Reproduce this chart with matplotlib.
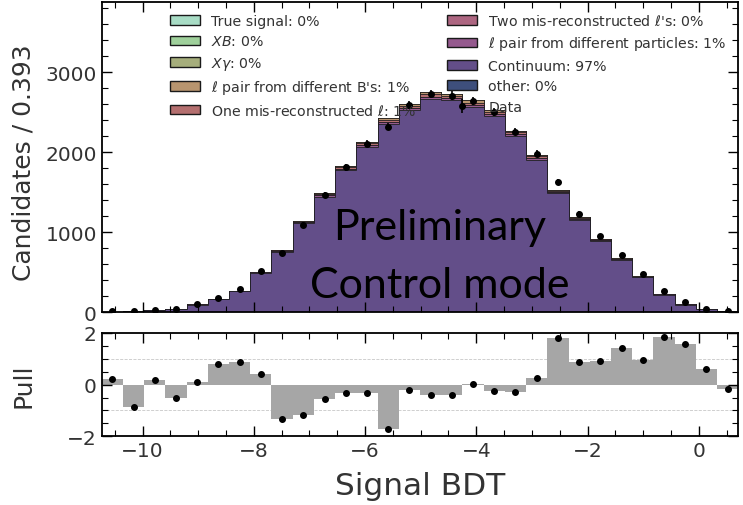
import numpy as np
import matplotlib
matplotlib.use('Agg')
import matplotlib.pyplot as plt
from matplotlib.ticker import MultipleLocator

# Signal BDT distribution, control mode
x_lo, x_hi, n_bins = -10.737, 0.712, 30

mc_total = [8, 12, 25, 45, 100, 167, 270, 508, 783, 1145, 1491, 1833, 2133, 2425, 2600,
            2750, 2729, 2646, 2529, 2271, 1966, 1533, 1190, 920, 677, 450, 229, 100, 41, 20]
data = [20, 20, 33, 41, 100, 175, 290, 516, 735, 1096, 1462, 1812, 2108, 2321, 2591,
        2729, 2708, 2637, 2500, 2258, 1979, 1625, 1225, 950, 720, 475, 270, 125, 41, 20]
pull = [0.21, -0.87, 0.19, -0.52, 0.11, 0.80, 0.88, 0.42, -1.34, -1.17, -0.56, -0.31, -0.31, -1.71, -0.20,
        -0.39, -0.39, 0.01, -0.25, -0.30, 0.26, 1.79, 0.86, 0.93, 1.41, 0.95, 1.86, 1.58, 0.62, -0.16]

components = ['True signal', '$XB$', r'$X\gamma$', "$\\ell$ pair from different B's",
              'One mis-reconstructed $\\ell$', "Two mis-reconstructed $\\ell$'s",
              '$\\ell$ pair from different particles', 'Continuum', 'other']
shares = [0, 0, 0, 1, 1, 0, 1, 97, 0]
colors = ['#a8dcc5', '#9fd09b', '#a6ae7c', '#b8956f', '#b46f6f', '#ad6681',
          '#955a8e', '#634e89', '#3e4f7c']

edges = np.linspace(x_lo, x_hi, n_bins + 1)
centers = 0.5 * (edges[1:] + edges[:-1])
mc_total = np.array(mc_total, dtype=float)
data = np.array(data, dtype=float)

plt.rcParams['font.family'] = 'DejaVu Sans'
plt.rcParams['xtick.direction'] = 'in'
plt.rcParams['ytick.direction'] = 'in'
plt.rcParams['xtick.top'] = True
plt.rcParams['ytick.right'] = True

fig = plt.figure(figsize=(7.43, 5.06), dpi=100)
W, H = 743., 506.
ax = fig.add_axes([101.7/W, 1-313.3/H, (738.3-101.7)/W, (313.3-2.7)/H])
axp = fig.add_axes([101.7/W, 1-437.3/H, (738.3-101.7)/W, (437.3-334)/H])

# stacked MC, continuum at the bottom
weights = [mc_total*s/100. for s in shares][::-1]
labels = ['%s: %d%%' % (c, s) for c, s in zip(components, shares)][::-1]
_, _, patches = ax.hist([centers]*len(weights), bins=edges, weights=weights, stacked=True,
                        histtype='stepfilled', color=colors[::-1], edgecolor='#1a1a1a',
                        linewidth=0.5, label=labels)
eb = ax.errorbar(centers, data, yerr=np.sqrt(data), fmt='o', color='k', ms=4,
                 elinewidth=1.2, capsize=0, label='Data')

handles = [p[0] for p in patches][::-1] + [eb]
leg_labels = labels[::-1] + ['Data']
leg = ax.legend(handles, leg_labels, ncol=2, frameon=False, fontsize=10.2,
                loc='upper left', bbox_to_anchor=(170/W, 1-14/H),
                bbox_transform=fig.transFigure, borderaxespad=0, borderpad=0,
                labelspacing=0.45, handlelength=2.1, handleheight=0.65,
                handletextpad=0.8, columnspacing=2.2)
for t in leg.get_texts():
    t.set_color('#333333')
for h in leg.legend_handles[:-1]:
    h.set_linewidth(1.0)

ax.set_xlim(x_lo, x_hi)
ax.set_ylim(0, 3880)
ax.yaxis.set_major_locator(MultipleLocator(1000))
ax.yaxis.set_minor_locator(MultipleLocator(200))
ax.xaxis.set_major_locator(MultipleLocator(2))
ax.xaxis.set_minor_locator(MultipleLocator(0.5))
ax.tick_params(labelbottom=False)
ax.set_ylabel('Candidates / 0.393', fontsize=18, color='#333333')

ax.text(440/W, 1-240/H, 'Preliminary', transform=fig.transFigure, ha='center',
        va='baseline', fontsize=31, family='Lato', color='k')
ax.text(440/W, 1-298/H, 'Control mode', transform=fig.transFigure, ha='center',
        va='baseline', fontsize=31, family='Lato', color='k')

# pull panel
for yy in (-1, 1):
    axp.axhline(yy, ls='--', color='#c8c8c8', lw=0.6, zorder=0)
axp.bar(centers, pull, width=edges[1]-edges[0], color='#a6a6a6', linewidth=0, zorder=1)
axp.plot(centers, pull, 'o', color='k', ms=4, zorder=3)
axp.set_xlim(x_lo, x_hi)
axp.set_ylim(-2, 2)
axp.yaxis.set_major_locator(MultipleLocator(2))
axp.yaxis.set_minor_locator(MultipleLocator(0.5))
axp.xaxis.set_major_locator(MultipleLocator(2))
axp.xaxis.set_minor_locator(MultipleLocator(0.5))
axp.set_ylabel('Pull', fontsize=18, color='#333333')
axp.set_xlabel('Signal BDT', fontsize=22.5, color='#333333', labelpad=8)

for a in (ax, axp):
    for s in a.spines.values():
        s.set_linewidth(1.3)
    a.tick_params(which='major', length=7, width=1, labelsize=14.5, labelcolor='#333333')
    a.tick_params(which='minor', length=4, width=0.8)
    a.yaxis.set_label_coords(-0.104, 0.5)
ax.yaxis.set_label_coords(-0.104, 0.484)

fig.savefig('out.png', dpi=100)
